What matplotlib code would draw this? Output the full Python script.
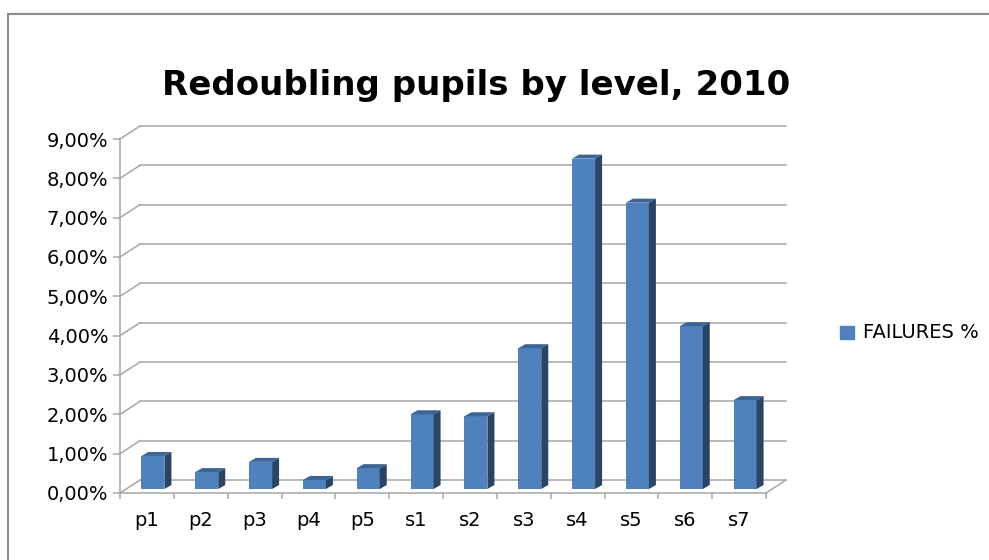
import numpy as np
import matplotlib
matplotlib.use('Agg')
from matplotlib import pyplot as plt
from matplotlib.patches import Polygon, Rectangle
from matplotlib.lines import Line2D

levels = ['p1', 'p2', 'p3', 'p4', 'p5', 's1', 's2', 's3', 's4', 's5', 's6', 's7']
failures = [0.84, 0.43, 0.69, 0.23, 0.53, 1.90, 1.85, 3.58, 8.40, 7.28, 4.14, 2.26]
yticks = [0, 1, 2, 3, 4, 5, 6, 7, 8, 9]
title = 'Redoubling pupils by level, 2010'
series_name = 'FAILURES %'

W, H = 989, 560
fig = plt.figure(figsize=(W / 100, H / 100), dpi=100)
ax = fig.add_axes([120 / W, (H - 493) / H, 646 / W, 354 / H])
n = len(levels)
ax.set_xlim(0, n)
ax.set_ylim(0, 9)

# pixel -> data scale
sx = 646 / n
sy = 354 / 9
grid_c = '#a6a6a6'

# back wall offset
bdx, bdy = 20 / sx, 13 / sy
for v in yticks:
    ax.add_line(Line2D([0, bdx], [v, v + bdy], color=grid_c, lw=1.1, clip_on=False))
    ax.add_line(Line2D([bdx, n + bdx], [v + bdy, v + bdy], color=grid_c, lw=1.1, clip_on=False))
# floor right edge
ax.add_line(Line2D([n, n + bdx], [0, bdy], color=grid_c, lw=1.1, clip_on=False))

# bars (pseudo 3d)
front = '#4f81bd'
side = '#2a4466'
top = '#3c6597'
off_x, off_y = 6 / sx, 4 / sy
bw = 23 / sx
ddx, ddy = 7 / sx, 4 / sy
x = np.arange(n) + 0.5 + off_x
ax.bar(x, failures, width=bw, bottom=off_y, color=front, zorder=3, clip_on=False)
for xi, v in zip(x, failures):
    l, r = xi - bw / 2, xi + bw / 2
    t = off_y + v
    ax.add_patch(Polygon([[r, off_y], [r + ddx, off_y + ddy], [r + ddx, t + ddy], [r, t]],
                         closed=True, color=side, lw=0, zorder=3, clip_on=False))
    ax.add_patch(Polygon([[l, t], [r, t], [r + ddx, t + ddy], [l + ddx, t + ddy]],
                         closed=True, color=top, lw=0, zorder=3, clip_on=False))

# axes
for s in ['top', 'right']:
    ax.spines[s].set_visible(False)
ax.spines['left'].set_color(grid_c)
ax.spines['bottom'].set_color(grid_c)
ax.spines['left'].set_linewidth(1.1)
ax.spines['bottom'].set_linewidth(1.1)
ax.set_yticks(yticks)
ax.set_yticklabels([('%.2f%%' % v).replace('.', ',') for v in yticks])
ax.tick_params(axis='y', length=5, width=1.1, color=grid_c, pad=3.5, labelsize=14)
ax.set_xticks(np.arange(n + 1))
ax.set_xticklabels([])
ax.tick_params(axis='x', which='major', length=4.5, width=1.1, color=grid_c)
ax.set_xticks(np.arange(n) + 0.5, minor=True)
ax.set_xticklabels(levels, minor=True)
ax.tick_params(axis='x', which='minor', length=0, pad=13, labelsize=14)

# title
fig.text(476 / W, (H - 95) / H, title, ha='center', va='baseline',
         fontsize=24.5, fontweight='bold', family='DejaVu Sans')

# legend
fig.patches.append(Rectangle((840 / W, (H - 339) / H), 14 / W, 13 / H,
                             transform=fig.transFigure, color=front))
fig.text(863 / W, (H - 333) / H, series_name, ha='left', va='center', fontsize=14)

# chart border
fig.add_artist(Line2D([8 / W, 8 / W], [0, (H - 14) / H], color='#8c8c8c', lw=1.5))
fig.add_artist(Line2D([8 / W, 1], [(H - 14) / H, (H - 14) / H], color='#8c8c8c', lw=1.5))

fig.savefig('out.png', dpi=100)
